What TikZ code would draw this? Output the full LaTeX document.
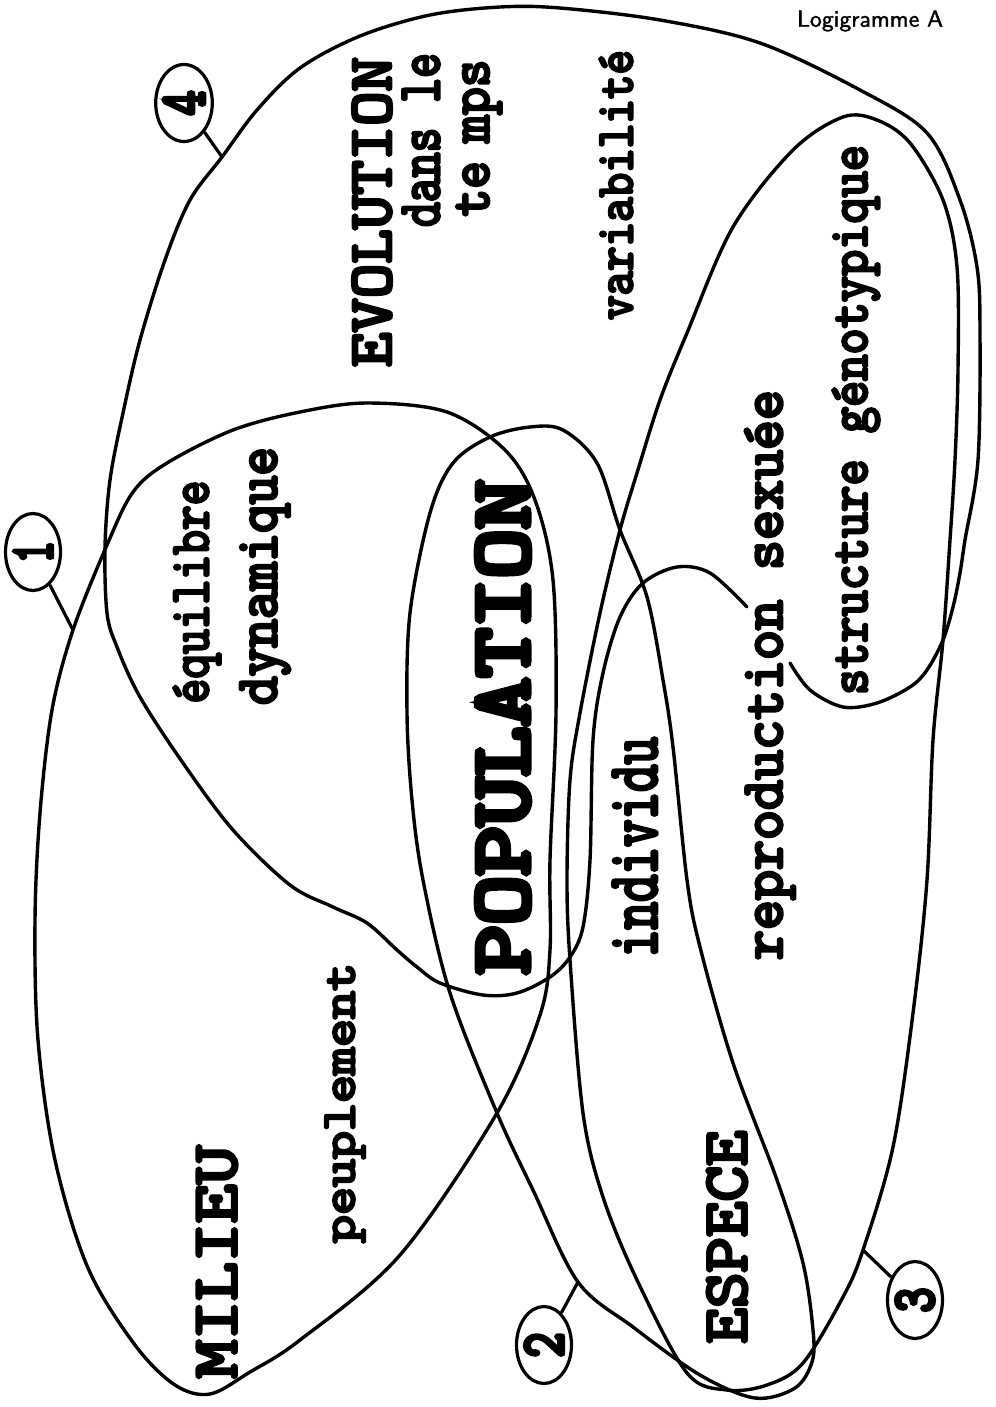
\documentclass[tikz,border=0pt]{standalone}
\usepackage{fontspec}
\usepackage{graphicx}
\usetikzlibrary{shapes.geometric}
\newfontfamily\slab{Latin Modern Mono}[FakeBold=5]
\newfontfamily\slabheavy{Latin Modern Mono}[FakeBold=7]
\newfontfamily\titlefont{Latin Modern Sans}[FakeBold=1.5]
\newlength\pxu \setlength\pxu{0.25mm}
% text resized to a given length and total height (in drawing units)
\newcommand\fitword[3]{\resizebox*{#1\pxu}{#2\pxu}{\slab #3}}
\newcommand\fitdigit[3]{\resizebox*{#1\pxu}{#2\pxu}{\slabheavy #3}}
\tikzset{
  loop/.style={line width=0.85mm, line join=round, line cap=round},
  vword/.style={rotate=90, inner sep=0pt, outer sep=0pt},
  tag/.style={draw, ellipse, line width=0.8mm, inner sep=0pt,
    minimum width=13.75mm, minimum height=19.25mm},
  tagline/.style={line width=0.8mm}
}
\begin{document}
\begin{tikzpicture}[x=0.25mm, y=-0.25mm]
\useasboundingbox (0,0) rectangle (996,1407);

% region 1 : milieu
\draw[loop] plot[smooth cycle, tension=0.55] coordinates {
  (73,630) (52,710) (40,813) (35,920) (38,1040) (55,1160) (88,1268)
  (135,1345) (175,1385) (210,1394) (250,1372) (300,1340) (400,1255)
  (497,1113) (540,1015) (550,950) (550,860) (556,713) (553,580)
  (535,500) (505,450) (447,412) (367,403) (300,412) (233,430)
  (167,463) (133,492) (107,545)};
\coordinate (c1) at (73,630);

% region 2 : population / espece
\draw[loop] plot[smooth cycle, tension=0.55] coordinates {
  (578,1282) (633,1327) (700,1375) (755,1398) (795,1388) (812,1362)
  (813,1330) (803,1263) (777,1180) (733,1063) (700,947) (687,880)
  (673,747) (663,680) (647,597) (620,530) (597,463) (563,430)
  (530,427) (490,437) (453,463) (430,513) (410,613) (407,713)
  (412,800) (423,880) (450,993) (497,1113) (533,1190)};
\coordinate (c2) at (578,1282);

% region 3 : espece / structure genotypique
\draw[loop] plot[smooth cycle, tension=0.55] coordinates {
  (863,1250) (843,1297) (803,1363) (767,1385) (727,1390) (687,1373)
  (637,1280) (603,1197) (583,1113) (570,960) (567,880) (570,780)
  (580,713) (600,613) (620,530) (637,473) (660,400) (687,333)
  (733,227) (793,150) (843,117) (877,120) (910,143) (943,200)
  (957,267) (958,370) (955,460) (950,540) (943,640) (933,740)
  (927,880) (913,1013) (893,1147)};
\coordinate (c3) at (863,1250);

% region 4 : evolution (open curve)
\draw[loop] plot[smooth, tension=0.55] coordinates {
  (747,607) (710,573) (677,567) (643,583) (620,617) (603,673)
  (593,740) (590,860) (583,927) (570,957) (550,977) (517,993)
  (483,995) (440,983) (417,967) (397,950) (367,923) (333,907)
  (290,885) (233,830) (183,763) (140,697) (117,647) (107,613)
  (105,547) (110,480) (123,413) (140,340) (165,260) (190,200)
  (222,157) (257,110) (300,68) (360,36) (430,15) (500,7) (560,8)
  (660,20) (760,43) (860,90) (927,133) (960,200) (977,267)
  (980,333) (978,460) (965,540) (960,573) (953,607) (943,640)
  (927,670) (910,687) (877,703) (843,707) (810,690) (790,663)};
\coordinate (c4) at (222,157);

% numbered tags
\node[tag] (t1) at (33,552) {\rotatebox{90}{\fitdigit{22}{38}{1}}};
\node[tag] (t2) at (544,1345) {\rotatebox{90}{\fitdigit{25}{38}{2}}};
\node[tag] (t3) at (915,1300) {\rotatebox{90}{\fitdigit{25}{38}{3}}};
\node[tag] (t4) at (184,103) {\rotatebox{90}{\fitdigit{25}{40}{4}}};
\draw[tagline] (t1) -- (c1);
\draw[tagline] (t2) -- (c2);
\draw[tagline] (t3) -- (c3);
\draw[tagline] (t4) -- (c4);

% words
\node[vword] (evol) at (372,212) {\fitword{310}{39}{EVOLUTION}};
\node[vword] (dans) at (421,140) {\fitword{174}{37}{dans le}};
\node[vword] (temps) at (479,138) {\fitword{157}{45}{te\kern0.35em mps}};
\node[vword] (vari) at (616,185) {\fitword{270}{33}{variabilité}};
\node[vword] (struct) at (856,420) {\fitword{550}{47}{structure génotypique}};
\node[vword] (repro) at (770,675) {\fitword{570}{50}{reproduction sexuée}};
\node[vword] (popu) at (503,727) {\resizebox*{495\pxu}{53\pxu}{\slabheavy POPULATION}};
\node[vword] (indiv) at (635,847) {\fitword{220}{44}{individu}};
\node[vword] (equi) at (197,592) {\fitword{223}{47}{équilibre}};
\node[vword] (dyna) at (265,576) {\fitword{258}{50}{dynamique}};
\node[vword] (peup) at (345,1103) {\fitword{280}{40}{peuplement}};
\node[vword] (mili) at (217,1262) {\fitword{233}{40}{MILIEU}};
\node[vword] (espe) at (727,1237) {\fitword{213}{40}{ESPECE}};

\node[inner sep=0pt] (title) at (870,21) {\resizebox*{146\pxu}{21\pxu}{\titlefont Logigramme A}};
\end{tikzpicture}
\end{document}
